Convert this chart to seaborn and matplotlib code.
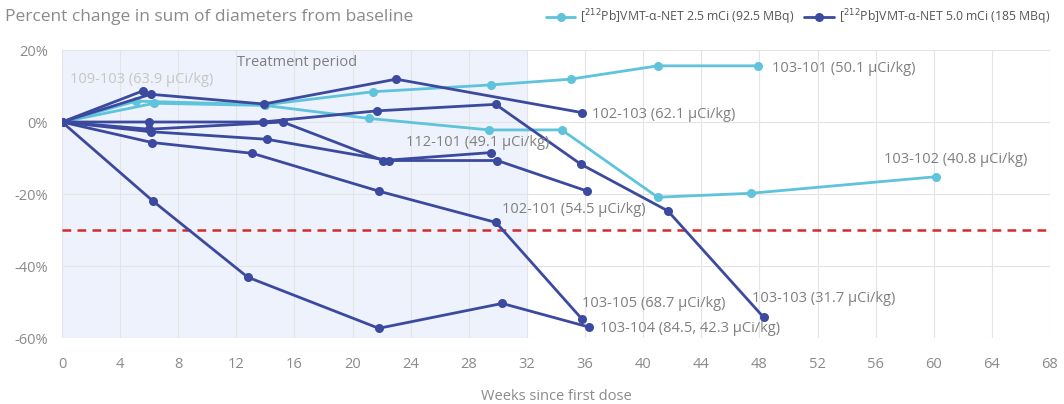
import matplotlib
matplotlib.use("Agg")
import matplotlib.pyplot as plt
from matplotlib.lines import Line2D
import seaborn as sns
import pandas as pd

# ---- data ----
dose_low = "[$^{212}$Pb]VMT-α-NET 2.5 mCi (92.5 MBq)"
dose_high = "[$^{212}$Pb]VMT-α-NET 5.0 mCi (185 MBq)"

p103_101_wk = [0, 5.1, 14.0, 21.4, 29.5, 35.0, 41.0, 47.9]
p103_101_pc = [0, 5.8, 4.8, 8.4, 10.3, 11.9, 15.6, 15.6]
p103_102_wk = [0, 6.35, 14.0, 21.1, 29.4, 34.4, 41.0, 47.4, 60.15]
p103_102_pc = [0, 5.2, 4.6, 1.0, -2.2, -2.2, -20.9, -19.8, -15.2]

p109_103_wk = [0, 5.6]
p109_103_pc = [0, 8.7]
p102_103_wk = [0, 6.1, 13.9, 23.0, 35.8]
p102_103_pc = [0, 7.7, 5.0, 11.9, 2.6]
p103_103_wk = [0, 6.0, 13.8, 21.7, 29.85, 35.7, 41.7, 48.3]
p103_103_pc = [0, 0.0, 0.0, 3.1, 4.9, -11.7, -24.7, -54.3]
p112_101_wk = [0, 6.0, 15.2, 22.1, 29.5]
p112_101_pc = [0, -2.0, 0.0, -10.7, -8.5]
p102_101_wk = [0, 6.1, 14.1, 22.5, 29.96, 36.15]
p102_101_pc = [0, -2.7, -4.8, -10.7, -10.7, -19.2]
p103_105_wk = [0, 6.2, 13.1, 21.8, 29.87, 35.8]
p103_105_pc = [0, -5.7, -8.7, -19.2, -27.9, -54.8]
p103_104_wk = [0, 6.24, 12.78, 21.8, 30.3, 36.3]
p103_104_pc = [0, -21.9, -43.1, -57.3, -50.4, -57.0]

series = [
    ("103-101", dose_low, p103_101_wk, p103_101_pc),
    ("103-102", dose_low, p103_102_wk, p103_102_pc),
    ("109-103", dose_high, p109_103_wk, p109_103_pc),
    ("102-103", dose_high, p102_103_wk, p102_103_pc),
    ("103-103", dose_high, p103_103_wk, p103_103_pc),
    ("112-101", dose_high, p112_101_wk, p112_101_pc),
    ("102-101", dose_high, p102_101_wk, p102_101_pc),
    ("103-105", dose_high, p103_105_wk, p103_105_pc),
    ("103-104", dose_high, p103_104_wk, p103_104_pc),
]

label_texts = ["109-103 (63.9 µCi/kg)", "103-101 (50.1 µCi/kg)", "102-103 (62.1 µCi/kg)",
               "112-101 (49.1 µCi/kg)", "103-102 (40.8 µCi/kg)", "102-101 (54.5 µCi/kg)",
               "103-105 (68.7 µCi/kg)", "103-103 (31.7 µCi/kg)", "103-104 (84.5, 42.3 µCi/kg)"]
label_wk = [0.55, 48.9, 36.5, 23.7, 56.6, 30.3, 35.8, 47.5, 37.0]
label_pc = [11.7, 15.0, 2.2, -5.8, -10.3, -24.2, -50.5, -48.9, -57.5]

threshold = -30
treatment_end = 32
x_ticks = list(range(0, 69, 4))
y_ticks = [-60, -40, -20, 0, 20]

rows = []
for pid, dose, wk, pc in series:
    for w, p in zip(wk, pc):
        rows.append({"patient": pid, "dose": dose, "week": w, "pct": p})
df = pd.DataFrame(rows)

# ---- style ----
sns.set_theme(style="white")
plt.rcParams["font.family"] = ["Open Sans", "DejaVu Sans"]
light = "#5ec3db"
dark = "#3b4a9e"
grey = "#8a8a8a"

fig = plt.figure(figsize=(10.64, 4.04), dpi=100)
ax = fig.add_axes([62 / 1064, 1 - 338 / 404, (1050 - 62) / 1064, (338 - 50) / 404])

ax.axvspan(0, treatment_end, color="#eef2fc", zorder=0, lw=0)

sns.lineplot(data=df, x="week", y="pct", hue="dose", units="patient", estimator=None,
             sort=False, marker="o", markersize=6.5, markeredgewidth=0, linewidth=2,
             palette={dose_low: light, dose_high: dark}, legend=False, ax=ax, zorder=3)

ax.axhline(threshold, color="#d42a2a", lw=1.8, ls=(0, (3.5, 2.5)), zorder=2)

ax.set_xlim(0, 68)
ax.set_ylim(-60, 20)
ax.set_xticks(x_ticks)
ax.set_yticks(y_ticks)
ax.set_yticklabels([f"{v}%" for v in y_ticks])
ax.grid(True, color="#e3e3e8", lw=0.8)
ax.set_axisbelow(True)
for s in ax.spines.values():
    s.set_visible(False)
ax.tick_params(axis="x", colors=grey, labelsize=10.5, length=0, pad=14)
ax.tick_params(axis="y", colors=grey, labelsize=10.5, length=0, pad=10)
ax.set_xlabel("")
ax.set_ylabel("")
fig.text(556 / 1064, 1 - 396 / 404, "Weeks since first dose", color=grey, fontsize=10.5,
         ha="center", va="center")

for t, w, p in zip(label_texts, label_wk, label_pc):
    c = "#c6c6c6" if t.startswith("109") else "#7f7f7f"
    ax.text(w, p, t, color=c, fontsize=10.5, va="center", ha="left", zorder=4)

ax.text(16.2, 16.4, "Treatment period", color="#7f7f7f", fontsize=10.5, ha="center", va="center")

fig.text(5 / 1064, 1 - 17 / 404, "Percent change in sum of diameters from baseline",
         color=grey, fontsize=12.5, ha="left", va="center")

handles = [Line2D([], [], color=light, marker="o", lw=2, markersize=6.5, markeredgewidth=0),
           Line2D([], [], color=dark, marker="o", lw=2, markersize=6.5, markeredgewidth=0)]
leg = fig.legend(handles, [dose_low, dose_high], loc="center right", ncol=2,
                 bbox_to_anchor=(0.997, 1 - 17 / 404), frameon=False, fontsize=8.8,
                 handlelength=2.4, columnspacing=0.8, handletextpad=0.4)
for t in leg.get_texts():
    t.set_color("#555555")

fig.savefig("out.png", dpi=100)
